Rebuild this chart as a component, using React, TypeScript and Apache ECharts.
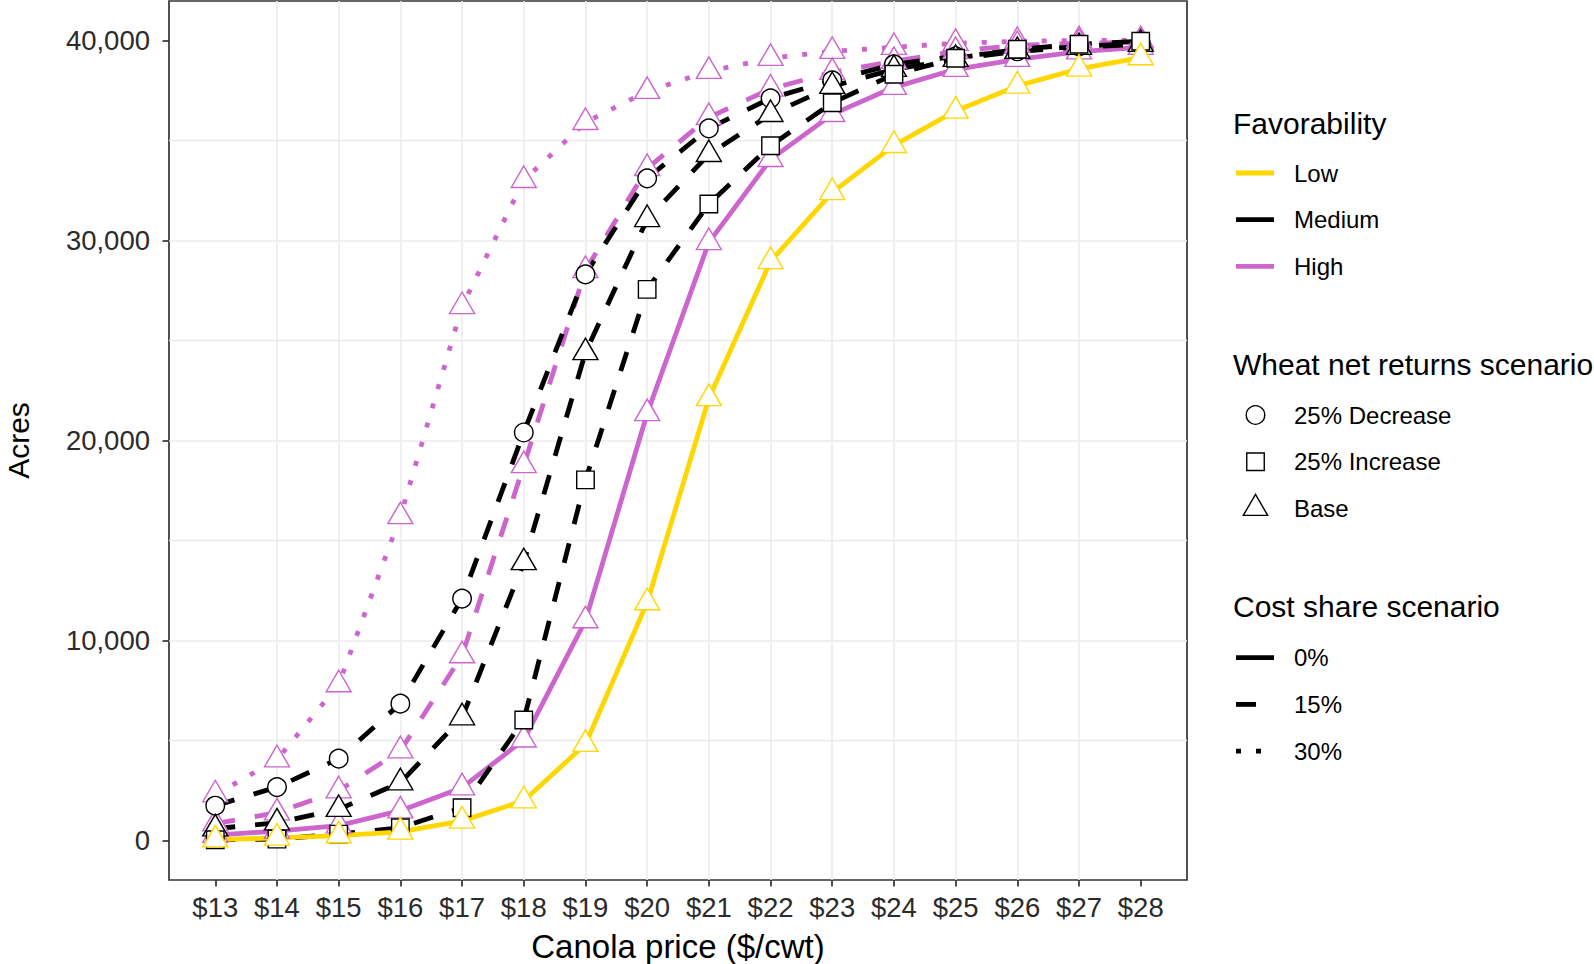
import React, { useEffect, useRef } from 'react';
import * as echarts from 'echarts';

// ---------------- data ----------------
const prices = [13, 14, 15, 16, 17, 18, 19, 20, 21, 22, 23, 24, 25, 26, 27, 28];
const yTicks = [0, 10000, 20000, 30000, 40000];

// Favorability Low, Base wheat returns, 0% cost share
const lowBase0 = [50, 140, 255, 440, 990, 2000, 4820, 11900, 22100, 28950, 32400, 34750, 36470, 37720, 38570, 39135];
// Favorability High, Base, 0%
const highBase0 = [280, 480, 750, 1500, 2650, 5040, 11000, 21350, 29900, 34050, 36300, 37650, 38550, 39050, 39430, 39650];
// Favorability High, Base, 15%
const highBase15 = [850, 1400, 2500, 4500, 9250, 18750, 28500, 33600, 36150, 37570, 38400, 38950, 39450, 39750, 39850, 39900];
// Favorability High, Base, 30%
const highBase30 = [2300, 4050, 7800, 16200, 26700, 33000, 35900, 37450, 38450, 39100, 39450, 39650, 39850, 39950, 39990, 40000];
// Favorability Medium, 25% Decrease, 15%
const medDecrease15 = [1750, 2680, 4100, 6850, 12100, 20400, 28300, 33100, 35600, 37100, 38000, 38800, 39200, 39450, 39700, 39850];
// Favorability Medium, Base, 15%
const medBase15 = [600, 900, 1570, 2900, 6150, 13900, 24400, 31050, 34300, 36300, 37700, 38550, 39050, 39450, 39650, 39800];
// Favorability Medium, 25% Increase, 15%
const medIncrease15 = [50, 80, 330, 650, 1650, 6030, 18030, 27550, 31820, 34730, 36880, 38300, 39100, 39550, 39800, 39950];

const favorabilityLabels = ['Low', 'Medium', 'High'];
const wheatLabels = ['25% Decrease', '25% Increase', 'Base'];
const costShareLabels = ['0%', '15%', '30%'];

const xTitle = 'Canola price ($/cwt)';
const yTitle = 'Acres';
const favTitle = 'Favorability';
const wheatTitle = 'Wheat net returns scenario';
const costTitle = 'Cost share scenario';

// ---------------- styles ----------------
const FONT = '"Liberation Sans", Arial, Helvetica, sans-serif';
const GOLD = '#FFD700';
const BLACK = '#000000';
const ORCHID = '#CC66CC';
const favColors = [GOLD, BLACK, ORCHID];
const DASH = [20, 20];
const DOT = [5, 15];
const costDashes: any[] = ['solid', DASH, DOT];
const LINE_W = 4.8;

type Shape = 'circle' | 'square' | 'triangle';

const specs: { name: string; values: number[]; color: string; dash: any; shape: Shape }[] = [
  { name: 'High Base 30%', values: highBase30, color: ORCHID, dash: DOT, shape: 'triangle' },
  { name: 'High Base 15%', values: highBase15, color: ORCHID, dash: DASH, shape: 'triangle' },
  { name: 'High Base 0%', values: highBase0, color: ORCHID, dash: 'solid', shape: 'triangle' },
  { name: 'Medium 25% Decrease 15%', values: medDecrease15, color: BLACK, dash: DASH, shape: 'circle' },
  { name: 'Medium Base 15%', values: medBase15, color: BLACK, dash: DASH, shape: 'triangle' },
  { name: 'Medium 25% Increase 15%', values: medIncrease15, color: BLACK, dash: DASH, shape: 'square' },
  { name: 'Low Base 0%', values: lowBase0, color: GOLD, dash: 'solid', shape: 'triangle' },
];

function symbolFor(shape: Shape) {
  if (shape === 'circle') return { symbol: 'circle', symbolSize: 18.5, symbolOffset: [0, 0] };
  if (shape === 'square') return { symbol: 'rect', symbolSize: 17.5, symbolOffset: [0, 0] };
  return { symbol: 'triangle', symbolSize: [25, 21.5], symbolOffset: [0, -3.6] };
}

// panel geometry
const GRID_LEFT = 169;
const GRID_TOP = 1;
const GRID_W = 1018;
const GRID_H = 879;

function buildLegend() {
  const els: any[] = [];
  const titleX = 1233;
  const keyX1 = 1236;
  const keyX2 = 1274;
  const keyCx = 1255.5;
  const textX = 1294;
  const step = 46.7;
  const title = (text: string, y: number) => ({
    type: 'text',
    style: { text, x: titleX, y, fill: '#000', fontSize: 30, fontFamily: FONT, align: 'left', verticalAlign: 'middle' },
  });
  const item = (text: string, y: number) => ({
    type: 'text',
    style: { text, x: textX, y, fill: '#000', fontSize: 24, fontFamily: FONT, align: 'left', verticalAlign: 'middle' },
  });

  els.push(title(favTitle, 123));
  favorabilityLabels.forEach((lab, i) => {
    const y = 173 + i * step;
    els.push({ type: 'line', shape: { x1: keyX1, y1: y, x2: keyX2, y2: y }, style: { stroke: favColors[i], lineWidth: LINE_W } });
    els.push(item(lab, y));
  });

  els.push(title(wheatTitle, 364));
  wheatLabels.forEach((lab, i) => {
    const y = 415 + i * step;
    const st = { fill: '#fff', stroke: '#000', lineWidth: 1.4 };
    if (i === 0) els.push({ type: 'circle', shape: { cx: keyCx, cy: y, r: 9.25 }, style: st });
    else if (i === 1) els.push({ type: 'rect', shape: { x: keyCx - 8.75, y: y - 8.75, width: 17.5, height: 17.5 }, style: st });
    else els.push({ type: 'polygon', shape: { points: [[keyCx, y - 14], [keyCx + 12.2, y + 7], [keyCx - 12.2, y + 7]] }, style: st });
    els.push(item(lab, y));
  });

  els.push(title(costTitle, 606));
  costShareLabels.forEach((lab, i) => {
    const y = 657.7 + i * step;
    const d = costDashes[i];
    els.push({
      type: 'line',
      shape: { x1: keyX1, y1: y, x2: keyX2, y2: y },
      style: { stroke: '#000', lineWidth: LINE_W, lineDash: d === 'solid' ? null : d, lineCap: 'butt' },
    });
    els.push(item(lab, y));
  });
  return els;
}

export default function App() {
  const ref = useRef<HTMLDivElement>(null);
  useEffect(() => {
    if (!ref.current) return;
    const chart = echarts.init(ref.current, null, { renderer: 'svg' });

    const lineSeries = specs.map((s) => ({
      name: s.name,
      type: 'line',
      data: prices.map((p, i) => [p, s.values[i]]),
      symbol: 'none',
      showSymbol: false,
      silent: true,
      z: 2,
      lineStyle: { color: s.color, width: LINE_W, type: s.dash, cap: 'butt', join: 'round' },
    }));
    const pointSeries = specs.map((s) => ({
      name: s.name + ' pts',
      type: 'scatter',
      data: prices.map((p, i) => [p, s.values[i]]),
      ...symbolFor(s.shape),
      silent: true,
      z: 3,
      itemStyle: { color: '#ffffff', borderColor: s.color, borderWidth: 1.4, opacity: 1 },
    }));

    chart.setOption({
      animation: false,
      backgroundColor: '#ffffff',
      grid: {
        left: GRID_LEFT,
        top: GRID_TOP,
        width: GRID_W,
        height: GRID_H,
        show: true,
        borderColor: '#333333',
        borderWidth: 1.7,
        backgroundColor: 'transparent',
        containLabel: false,
        outerBoundsMode: 'none',
      },
      xAxis: {
        type: 'value',
        min: 12.25,
        max: 28.75,
        minInterval: 1,
        maxInterval: 1,
        axisLine: { show: false, onZero: false },
        axisTick: { show: true, customValues: prices, length: 6.5, lineStyle: { color: '#333333', width: 1.7 } },
        axisLabel: {
          customValues: prices,
          formatter: (v: number) => '$' + v,
          fontSize: 27.5,
          fontFamily: FONT,
          color: '#2b2b2b',
          margin: 13,
        },
        splitLine: { show: true, showMinLine: false, showMaxLine: false, lineStyle: { color: '#EBEBEB', width: 1.6 } },
        name: xTitle,
        nameLocation: 'middle',
        nameGap: 50,
        nameTextStyle: { fontSize: 33, fontFamily: FONT, color: '#000' },
      },
      yAxis: {
        type: 'value',
        min: -1964,
        max: 41964,
        minInterval: 10000,
        maxInterval: 10000,
        axisLine: { show: false, onZero: false },
        axisTick: { show: true, customValues: yTicks, length: 6.5, lineStyle: { color: '#333333', width: 1.7 } },
        axisLabel: {
          customValues: yTicks,
          formatter: (v: number) => v.toLocaleString('en-US'),
          fontSize: 27.5,
          fontFamily: FONT,
          color: '#2b2b2b',
          margin: 19,
        },
        splitLine: { show: true, showMinLine: false, showMaxLine: false, lineStyle: { color: '#EBEBEB', width: 1.6 } },
        minorTick: { show: false, splitNumber: 2 },
        minorSplitLine: { show: true, lineStyle: { color: '#EBEBEB', width: 1.3 } },
        name: yTitle,
        nameLocation: 'middle',
        nameGap: 136,
        nameTextStyle: { fontSize: 30, fontFamily: FONT, color: '#000' },
      },
      series: [...lineSeries, ...pointSeries],
      graphic: buildLegend(),
    });
    return () => chart.dispose();
  }, []);
  return <div ref={ref} style={{ position: 'absolute', left: 0, top: 0, width: 1594, height: 964 }} />;
}
